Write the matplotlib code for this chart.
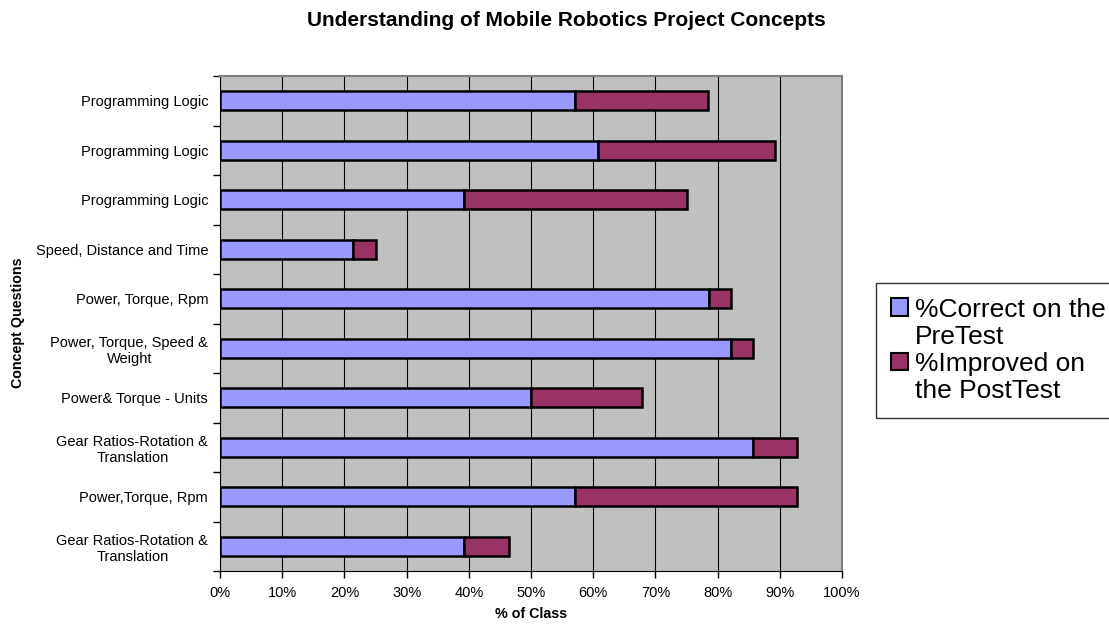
import matplotlib
matplotlib.use("Agg")
import matplotlib.pyplot as plt
import numpy as np
from matplotlib.ticker import FixedLocator, PercentFormatter
from matplotlib.patches import Patch

plt.rcParams['font.family'] = ['Liberation Sans', 'DejaVu Sans']

# Data listed bottom-to-top (as drawn by barh)
categories = [
    "Gear Ratios-Rotation &\nTranslation",
    "Power,Torque, Rpm",
    "Gear Ratios-Rotation &\nTranslation",
    "Power& Torque - Units",
    "Power, Torque, Speed &\nWeight",
    "Power, Torque, Rpm",
    "Speed, Distance and Time",
    "Programming Logic",
    "Programming Logic",
    "Programming Logic",
]
pretest_correct = [39.3, 57.1, 85.7, 50.0, 82.1, 78.6, 21.4, 39.3, 60.7, 57.1]
posttest_improved = [7.1, 35.7, 7.1, 17.9, 3.6, 3.6, 3.6, 35.7, 28.6, 21.4]
series_labels = ["%Correct on the\nPreTest", "%Improved on\nthe PostTest"]
colors = ["#9999FF", "#993366"]

fig = plt.figure(figsize=(11.09, 6.24), dpi=100)
ax = fig.add_axes([220/1109, 1-571/624, (842-220)/1109, (571-76)/624])
ax.set_facecolor("#C0C0C0")

y = np.arange(len(categories))
ax.barh(y, pretest_correct, height=0.38, color=colors[0], edgecolor="black", linewidth=1.8, zorder=3)
ax.barh(y, posttest_improved, left=pretest_correct, height=0.38, color=colors[1],
        edgecolor="black", linewidth=1.8, zorder=3)

ax.set_xlim(0, 100)
ax.set_ylim(-0.5, len(categories) - 0.5)
ax.set_xticks(np.arange(0, 101, 10))
ax.xaxis.set_major_formatter(PercentFormatter(decimals=0))
ax.xaxis.grid(True, color="black", linewidth=0.8, zorder=1)
ax.set_axisbelow(True)

ax.set_yticks(y)
ax.set_yticklabels(categories, fontsize=10.5, ha="right", multialignment="center")
ax.yaxis.set_minor_locator(FixedLocator(np.arange(-0.5, len(categories), 1)))
ax.tick_params(axis="y", which="major", length=0, pad=8.5)
ax.tick_params(axis="y", which="minor", length=5, width=1, color="black")
ax.tick_params(axis="x", length=5, width=1, labelsize=10.5, pad=6)

for side in ["top", "right"]:
    ax.spines[side].set_color("#808080")
    ax.spines[side].set_linewidth(1.5)
ax.spines["left"].set_color("black")
ax.spines["bottom"].set_color("black")

ax.set_xlabel("% of Class", fontsize=10.3, fontweight="bold", labelpad=5)
fig.text(18/1109, 1-323/624, "Concept Questions", rotation=90, fontsize=10.3,
         fontweight="bold", ha="center", va="center")

fig.text(566/1109, 1-21/624, "Understanding of Mobile Robotics Project Concepts",
         fontsize=15, fontweight="bold", ha="center", va="center")

# Legend: marker aligned with first line of each (wrapped) label
handles, texts = [], []
for c, lab in zip(colors, series_labels):
    lines = lab.split("\n")
    handles.append(Patch(facecolor=c, edgecolor="black", linewidth=1.5))
    texts.append(lines[0])
    for extra in lines[1:]:
        handles.append(Patch(facecolor="none", edgecolor="none"))
        texts.append(extra)
leg = fig.legend(handles, texts, loc="upper left",
                 bbox_to_anchor=(876/1109, 1-283/624), fontsize=19,
                 frameon=True, fancybox=False, edgecolor="black",
                 handlelength=0.65, handleheight=0.65, handletextpad=0.27,
                 borderpad=0.55, labelspacing=0.12, borderaxespad=0)
leg.get_frame().set_linewidth(1.0)

fig.savefig("out.png", dpi=100)
